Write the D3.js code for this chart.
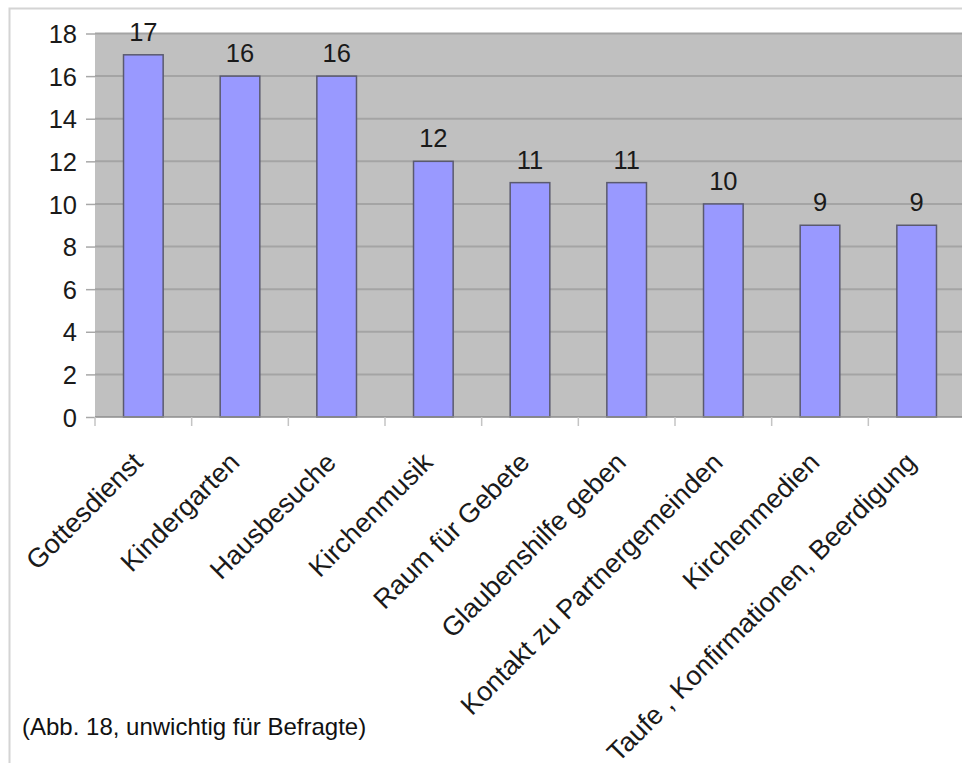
<!DOCTYPE html>
<html>
<head>
<meta charset="utf-8">
<script src="https://cdn.jsdelivr.net/npm/d3@7"></script>
<style>
  html, body { margin: 0; padding: 0; background: #fff; }
  svg { display: block; font-family: "Liberation Sans", Arial, sans-serif; }
</style>
</head>
<body>
<svg id="chart" width="962" height="763"></svg>
<script>
// Survey answers: how many respondents named each item as unimportant
const categories = [
  "Gottesdienst",
  "Kindergarten",
  "Hausbesuche",
  "Kirchenmusik",
  "Raum für Gebete",
  "Glaubenshilfe geben",
  "Kontakt zu Partnergemeinden",
  "Kirchenmedien",
  "Taufe , Konfirmationen, Beerdigung"
];
const counts = [17, 16, 16, 12, 11, 11, 10, 9, 9];
const yTicks = [0, 2, 4, 6, 8, 10, 12, 14, 16, 18];
const caption = "(Abb. 18, unwichtig für Befragte)";

const svg = d3.select("#chart");

// outer frame of the figure
svg.append("path")
  .attr("d", "M9.5,770 V8.5 H970")
  .attr("fill", "none")
  .attr("stroke", "#d4d4d4")
  .attr("stroke-width", 2);

const plot = { left: 95, top: 33.5, right: 965, bottom: 417 };

const x = d3.scaleBand()
  .domain(categories)
  .range([plot.left, plot.right])
  .paddingInner(0.59)
  .paddingOuter(0.295);

const y = d3.scaleLinear()
  .domain([0, 18])
  .range([plot.bottom, plot.top]);

// plot background
svg.append("rect")
  .attr("x", plot.left)
  .attr("y", plot.top)
  .attr("width", plot.right - plot.left)
  .attr("height", plot.bottom - plot.top)
  .attr("fill", "#c0c0c0");

// horizontal gridlines
svg.append("g")
  .selectAll("line")
  .data(yTicks.filter(d => d > 0))
  .join("line")
  .attr("x1", plot.left)
  .attr("x2", plot.right)
  .attr("y1", d => y(d))
  .attr("y2", d => y(d))
  .attr("stroke", "#a4a4a4")
  .attr("stroke-width", 2);

// y axis
const yAxis = svg.append("g")
  .attr("transform", `translate(${plot.left},0)`)
  .call(d3.axisLeft(y).tickValues(yTicks).tickSize(9).tickPadding(9).tickFormat(d3.format("d")));
yAxis.select(".domain").remove();
yAxis.selectAll(".tick line").attr("stroke", "#a8a8a8").attr("stroke-width", 1.5);
yAxis.selectAll(".tick text")
  .attr("font-size", 25.5)
  .attr("dy", "0.36em")
  .attr("fill", "#1a1a1a")
  .attr("font-family", "Liberation Sans, Arial, sans-serif");

// bars
svg.append("g")
  .selectAll("rect")
  .data(counts)
  .join("rect")
  .attr("x", (d, i) => x(categories[i]))
  .attr("y", d => y(d))
  .attr("width", x.bandwidth())
  .attr("height", d => y(0) - y(d))
  .attr("fill", "#9999ff")
  .attr("stroke", "#5a5a6e")
  .attr("stroke-width", 1.5);

// value labels above bars
svg.append("g")
  .selectAll("text")
  .data(counts)
  .join("text")
  .attr("x", (d, i) => x(categories[i]) + x.bandwidth() / 2)
  .attr("y", d => y(d) - 14)
  .attr("text-anchor", "middle")
  .attr("font-size", 25.5)
  .attr("fill", "#1a1a1a")
  .text(d => d);

// x axis line and category separators
const gap = (x.step() - x.bandwidth()) / 2;
svg.append("line")
  .attr("x1", plot.left)
  .attr("x2", plot.right)
  .attr("y1", plot.bottom)
  .attr("y2", plot.bottom)
  .attr("stroke", "#8c8c8c")
  .attr("stroke-width", 1.5);
svg.append("g")
  .selectAll("line")
  .data(categories)
  .join("line")
  .attr("x1", d => x(d) - gap)
  .attr("x2", d => x(d) - gap)
  .attr("y1", plot.bottom)
  .attr("y2", plot.bottom + 9)
  .attr("stroke", "#c4c4c4")
  .attr("stroke-width", 1.5);

// rotated category labels
svg.append("g")
  .selectAll("text")
  .data(categories)
  .join("text")
  .attr("transform", d => `translate(${x(d) + x.bandwidth() / 2 + 1},464) rotate(-45)`)
  .attr("text-anchor", "end")
  .attr("font-size", 27)
  .attr("fill", "#1a1a1a")
  .text(d => d);

// caption
svg.append("text")
  .attr("x", 22)
  .attr("y", 735)
  .attr("font-size", 24)
  .attr("fill", "#111")
  .text(caption);
</script>
</body>
</html>
